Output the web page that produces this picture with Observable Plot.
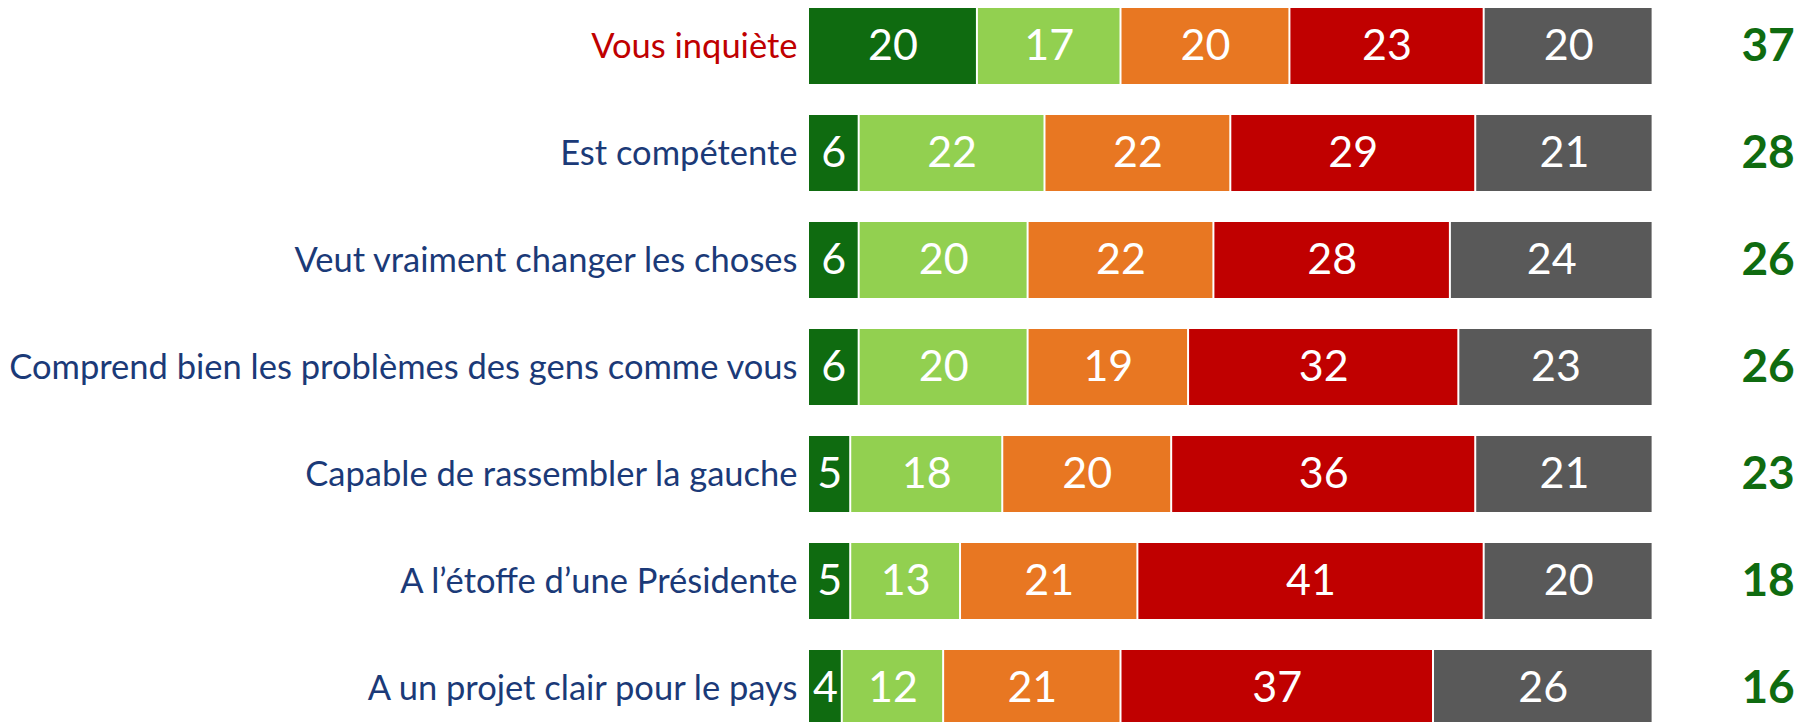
<!DOCTYPE html>
<html>
<head>
<meta charset="utf-8">
<script src="https://cdn.jsdelivr.net/npm/d3@7"></script>
<script src="https://cdn.jsdelivr.net/npm/@observablehq/plot@0.6"></script>
<style>
  html, body { margin: 0; padding: 0; background: #fff; overflow: hidden; }
  #chart svg { display: block; }
</style>
</head>
<body>
<div id="chart"></div>
<script>
const categories = [
  "Vous inquiète",
  "Est compétente",
  "Veut vraiment changer les choses",
  "Comprend bien les problèmes des gens comme vous",
  "Capable de rassembler la gauche",
  "A l’étoffe d’une Présidente",
  "A un projet clair pour le pays"
];
const series = ["Tout à fait", "Plutôt", "Plutôt pas", "Pas du tout", "Ne se prononce pas"];
const toutAFait  = [20, 6, 6, 6, 5, 5, 4];
const plutot     = [17, 22, 20, 20, 18, 13, 12];
const plutotPas  = [20, 22, 22, 19, 20, 21, 21];
const pasDuTout  = [23, 29, 28, 32, 36, 41, 37];
const nsp        = [20, 21, 24, 23, 21, 20, 26];
const totals     = [37, 28, 26, 26, 23, 18, 16];
const colors = ["#0F6B10", "#92D050", "#E87722", "#C00000", "#595959"];

const seriesValues = [toutAFait, plutot, plutotPas, pasDuTout, nsp];
const tidy = [];
categories.forEach((cat, i) => {
  series.forEach((s, j) => tidy.push({cat, series: s, value: seriesValues[j][i]}));
});
const totalRows = categories.map((cat, i) => ({cat, total: totals[i]}));

const plot = Plot.plot({
  width: 1807,
  height: 722,
  marginLeft: 808,
  marginRight: 154.4,
  marginTop: 0,
  marginBottom: 0,
  style: {fontFamily: "Lato, sans-serif", background: "#fff"},
  x: {domain: [0, 100], axis: null},
  y: {domain: categories, range: [5.8, 727.1], paddingInner: 0.293, paddingOuter: 0, axis: null},
  color: {domain: series, range: colors},
  marks: [
    Plot.barX(tidy, Plot.stackX({x: "value", y: "cat", fill: "series", insetLeft: 1, insetRight: 1})),
    Plot.text(tidy, Plot.stackX({x: "value", y: "cat", text: d => String(d.value), fill: "white", fontSize: 43, fontWeight: 400})),
    Plot.text(categories, {x: () => 0, y: d => d, text: d => d, textAnchor: "end", dx: -11,
      fill: d => d === "Vous inquiète" ? "#C00000" : "#1B3A78", fontSize: 34.5, fontWeight: 400}),
    Plot.text(totalRows, {y: "cat", text: d => String(d.total), frameAnchor: "right", dx: 115,
      textAnchor: "middle", fill: "#0F6B10", fontSize: 46, fontWeight: 700})
  ]
});
document.getElementById("chart").appendChild(plot);
</script>
</body>
</html>
